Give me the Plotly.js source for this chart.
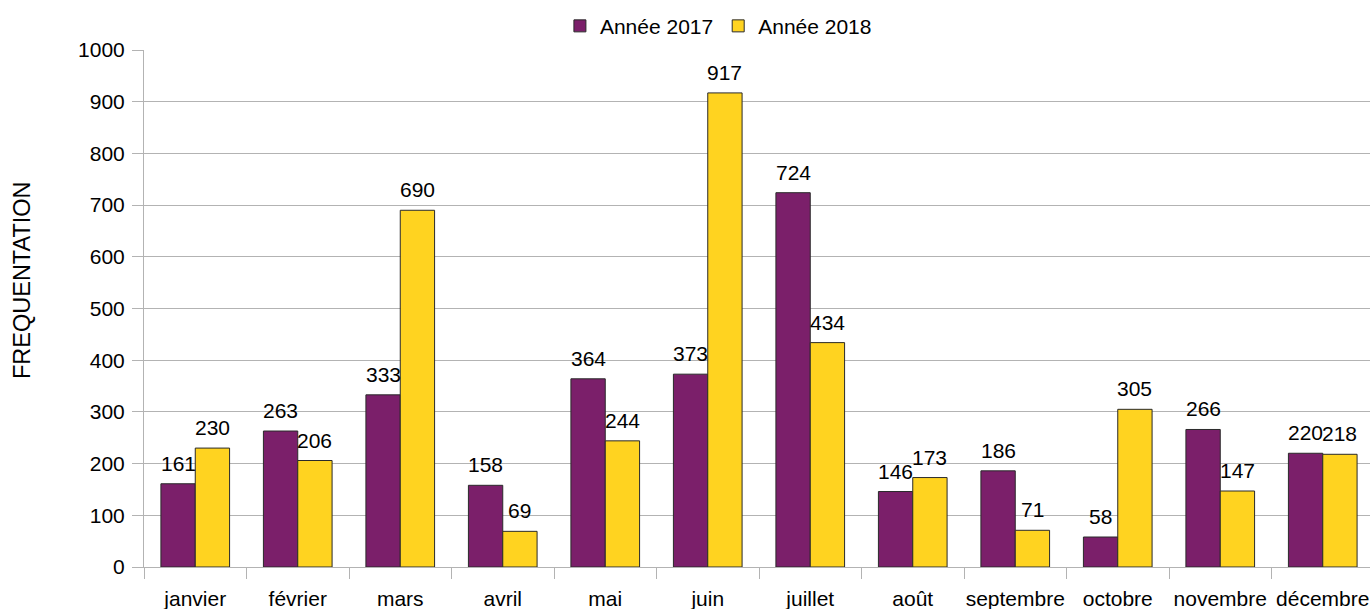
<!DOCTYPE html>
<html><head><meta charset="utf-8">
<script src="https://cdn.plot.ly/plotly-3.0.1.min.js"></script>
<style>html,body{margin:0;padding:0;overflow:hidden;background:#fff}</style>
</head><body><div id="chart"></div>
<script>
const months = ["janvier","février","mars","avril","mai","juin","juillet","août","septembre","octobre","novembre","décembre"];
const values2017 = [161,263,333,158,364,373,724,146,186,58,266,220];
const values2018 = [230,206,690,69,244,917,434,173,71,305,147,218];
const seriesNames = ["Année 2017","Année 2018"];
const yTicks = [0,100,200,300,400,500,600,700,800,900,1000];

const fam = "Liberation Sans, Arial, sans-serif";
const font = {family:fam, size:21, color:"#000"};
function mk(name, vals, color){
  return {type:"bar", name:name, x:months, y:vals,
    marker:{color:color, line:{color:"#2a2a2a", width:1}}, hoverinfo:"none"};
}
const data = [mk(seriesNames[0], values2017, "#7b1f6a"), mk(seriesNames[1], values2018, "#ffd320")];
const annotations = [];
[[values2017,-17.2],[values2018,17.2]].forEach(([vals,dx])=>{
  vals.forEach((v,i)=>annotations.push({xref:"x", yref:"y", x:months[i], y:v, text:String(v),
    showarrow:false, xshift:dx, yshift:7, yanchor:"bottom", xanchor:"center",
    font:{family:fam,size:21,color:"#000"}}));
});
annotations.push({xref:"paper", yref:"paper", x:-0.0992, y:0.555, xanchor:"center", yanchor:"middle",
  text:"FREQUENTATION", textangle:-90, showarrow:false, font:{family:fam,size:23.5,color:"#000"}});
const layout = {
  width:1376, height:609,
  margin:{l:144, r:2, t:50, b:42},
  paper_bgcolor:"#fff", plot_bgcolor:"#fff",
  font:font,
  barmode:"group", bargap:0.33, bargroupgap:0,
  showlegend:true,
  legend:{orientation:"h", x:0.467, xanchor:"center", y:1.046, yanchor:"middle",
    font:{family:fam,size:21,color:"#000"}, itemwidth:30, traceorder:"normal"},
  xaxis:{type:"category", range:[-0.5,11.5], tickson:"boundaries", ticks:"outside", ticklen:11,
    tickcolor:"#b3b3b3", showgrid:false, showline:true, linecolor:"#b3b3b3", zeroline:false,
    tickangle:0, ticklabelstandoff:13,
    tickfont:{family:fam,size:21,color:"#000"}, fixedrange:true},
  yaxis:{range:[0,1000], tickvals:yTicks, ticks:"outside", ticklen:11, tickcolor:"#b3b3b3",
    showgrid:true, gridcolor:"#b3b3b3", showline:true, linecolor:"#b3b3b3", zeroline:false,
    ticklabelstandoff:3,
    tickfont:{family:fam,size:21,color:"#000"}},
  annotations:annotations
};
Plotly.newPlot("chart", data, layout, {displayModeBar:false, staticPlot:true});
</script></body></html>
